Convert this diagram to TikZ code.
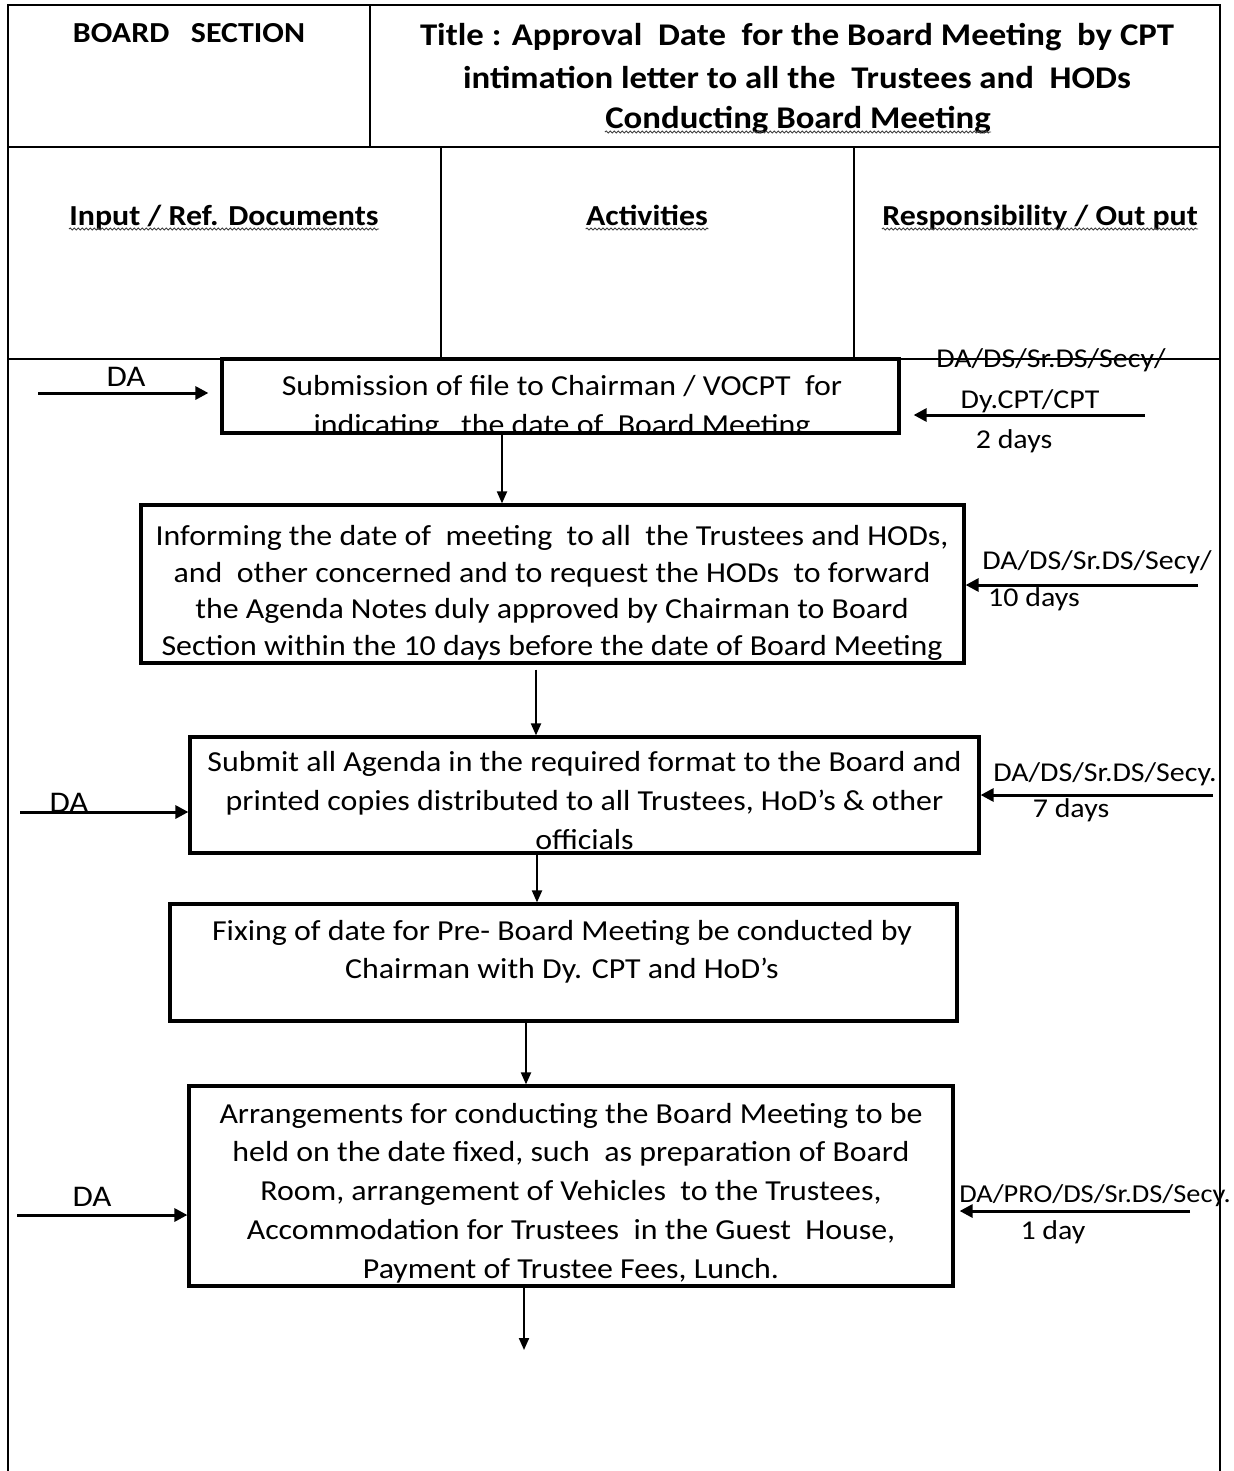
\documentclass[tikz,border=0pt]{standalone}
\usepackage{fontspec}
\setmainfont{Carlito}[FakeStretch=1.1]
\usetikzlibrary{arrows.meta,decorations.pathmorphing}
\begin{document}
\begin{tikzpicture}[x=0.5pt,y=-0.5pt,
  frame/.style={line width=1pt},
  box/.style={draw, line width=1.6pt, inner sep=0pt},
  body/.style={font=\fontsize{14.5}{19.5}\selectfont, align=center, inner sep=0pt},
  side/.style={font=\fontsize{13.6}{17}\selectfont, inner sep=0pt, anchor=base},
  dalabel/.style={font=\fontsize{15}{18}\selectfont, inner sep=0pt, anchor=base},
  hdr/.style={font=\bfseries\fontsize{14.5}{21.5}\selectfont, align=center, inner sep=0pt},
  ttl/.style={font=\bfseries\fontsize{15.8}{21.5}\selectfont, align=center, inner sep=0pt},
  flow/.style={line width=1pt, -{Triangle[length=6pt,width=5pt]}},
  feed/.style={line width=1.5pt, -{Triangle[length=6.5pt,width=6.5pt]}},
  wavy/.style={draw=black!75, line width=0.45pt, decorate, decoration={snake, amplitude=0.5pt, segment length=2pt}}
]
\useasboundingbox (0,0) rectangle (1233,1471);

% ---------- table frame ----------
\draw[frame] (8,1471) -- (8,5) -- (1220,5) -- (1220,1471);
\draw[frame] (370,5) -- (370,147);
\draw[line width=1.3pt] (8,147) -- (1220,147);
\draw[frame] (441,147) -- (441,359);
\draw[frame] (854,147) -- (854,359);
\draw[line width=0.8pt] (8,359) -- (1220,359);

% ---------- header texts ----------
\node[hdr, anchor=base] (sec) at (189,43) {BOARD~~ SECTION};
\node[ttl] (title) at (797,56) {Title : Approval~ Date~ for the Board Meeting~ by CPT\\intimation letter to all the~ Trustees and~ HODs};
\node[ttl, anchor=base] (title3) at (798,129) {Conducting Board Meeting};
\draw[wavy] ([yshift=-1.5pt]title3.base west) -- ([yshift=-1.5pt]title3.base east);

\node[hdr, anchor=base] (hin) at (224,226) {Input / Ref. Documents};
\node[hdr, anchor=base] (hact) at (647,226) {Activities};
\node[hdr, anchor=base] (hresp) at (1040,226) {Responsibility / Out put};
\draw[wavy] ([yshift=-1.5pt]hin.base west) -- ([yshift=-1.5pt]hin.base east);
\draw[wavy] ([yshift=-1.5pt]hact.base west) -- ([yshift=-1.5pt]hact.base east);
\draw[wavy] ([yshift=-1.5pt]hresp.base west) -- ([yshift=-1.5pt]hresp.base east);

% ---------- activity boxes ----------
\node[box, minimum width=338.5pt, minimum height=37pt] (b1) at (560.5,396) {};
\node[box, minimum width=411.5pt, minimum height=79pt] (b2) at (552.5,584) {};
\node[box, minimum width=394.5pt, minimum height=58pt] (b3) at (584.5,795) {};
\node[box, minimum width=393.5pt, minimum height=58.5pt] (b4) at (563.5,962.5) {};
\node[box, minimum width=382pt, minimum height=100pt] (b5) at (571,1186) {};

\begin{scope}
  \clip ([xshift=0.8pt,yshift=-0.8pt]b1.north west) rectangle ([xshift=-0.8pt,yshift=0.8pt]b1.south east);
  \node[body] (t1) at (562,407) {Submission of file to Chairman / VOCPT~ for\\indicating~~ the date of~ Board Meeting};
\end{scope}
\begin{scope}
  \clip ([xshift=0.8pt,yshift=-0.8pt]b2.north west) rectangle ([xshift=-0.8pt,yshift=0.8pt]b2.south east);
  \node[body, font=\fontsize{14.5}{18.35}\selectfont] (t2) at (552,593) {Informing the date of~ meeting~ to all~ the Trustees and HODs,\\and~ other concerned and to request the HODs~ to forward\\the Agenda Notes duly approved by Chairman to Board\\Section within the 10 days before the date of Board Meeting};
\end{scope}
\node[body] (t3) at (584.5,800.5) {Submit all Agenda in the required format to the Board and\\printed copies distributed to all Trustees, HoD’s \& other\\officials};
\node[body, font=\fontsize{14.5}{19}\selectfont] (t4) at (562,952) {Fixing of date for Pre- Board Meeting be conducted by\\Chairman with Dy. CPT and HoD’s};
\node[body, font=\fontsize{14.5}{19.4}\selectfont] (t5) at (571,1193) {Arrangements for conducting the Board Meeting to be\\held on the date fixed, such~ as preparation of Board\\Room, arrangement of Vehicles~ to the Trustees,\\Accommodation for Trustees~ in the Guest~ House,\\Payment of Trustee Fees, Lunch.};

% ---------- flow arrows ----------
\coordinate (v1) at (502,0);
\coordinate (v2) at (536,0);
\coordinate (v3) at (537,0);
\coordinate (v4) at (526,0);
\coordinate (v5) at (524,0);
\coordinate (endpt) at (524,1350);
\draw[flow] (v1 |- b1.south) -- (v1 |- b2.north);
\draw[flow, shorten <=2.5pt] (v2 |- b2.south) -- (v2 |- b3.north);
\draw[flow] (v3 |- b3.south) -- (v3 |- b4.north);
\draw[flow] (v4 |- b4.south) -- (v4 |- b5.north);
\draw[flow] (v5 |- b5.south) -- (endpt);

% ---------- input arrows (left) ----------
\coordinate (l1) at (38,393);
\coordinate (l3) at (20,812);
\coordinate (l5) at (17,1215);
\draw[feed, shorten >=6pt] (l1) -- (l1 -| b1.west);
\draw[feed] (l3) -- (l3 -| b3.west);
\draw[feed] (l5) -- (l5 -| b5.west);
\node[dalabel] (da1) at (126,386) {DA};
\node[dalabel] (da3) at (69,812) {DA};
\node[dalabel] (da5) at (92,1206) {DA};

% ---------- responsibility arrows (right) ----------
\coordinate (r1) at (1145,415);
\coordinate (r2) at (1198,585);
\coordinate (r3) at (1213,795);
\coordinate (r5) at (1190,1211);
\draw[feed, shorten >=6.5pt] (r1) -- (r1 -| b1.east);
\draw[feed] (r2) -- (r2 -| b2.east);
\draw[feed] (r3) -- (r3 -| b3.east);
\draw[feed, shorten >=2.5pt] (r5) -- (r5 -| b5.east);

\node[side] (s1a) at (1051,367) {DA/DS/Sr.DS/Secy/};
\node[side] (s1b) at (1030,408) {Dy.CPT/CPT};
\node[side] (s1c) at (1014,448) {2 days};
\node[side] (s2a) at (1097,569) {DA/DS/Sr.DS/Secy/};
\node[side] (s2b) at (1034,606) {10 days};
\node[side] (s3a) at (1105,781) {DA/DS/Sr.DS/Secy.};
\node[side] (s3b) at (1071,817) {7 days};
\node[side, font=\fontsize{12.9}{16}\selectfont] (s5a) at (1095,1202) {DA/PRO/DS/Sr.DS/Secy.};
\node[side] (s5b) at (1053,1239) {1 day};
\end{tikzpicture}
\end{document}
